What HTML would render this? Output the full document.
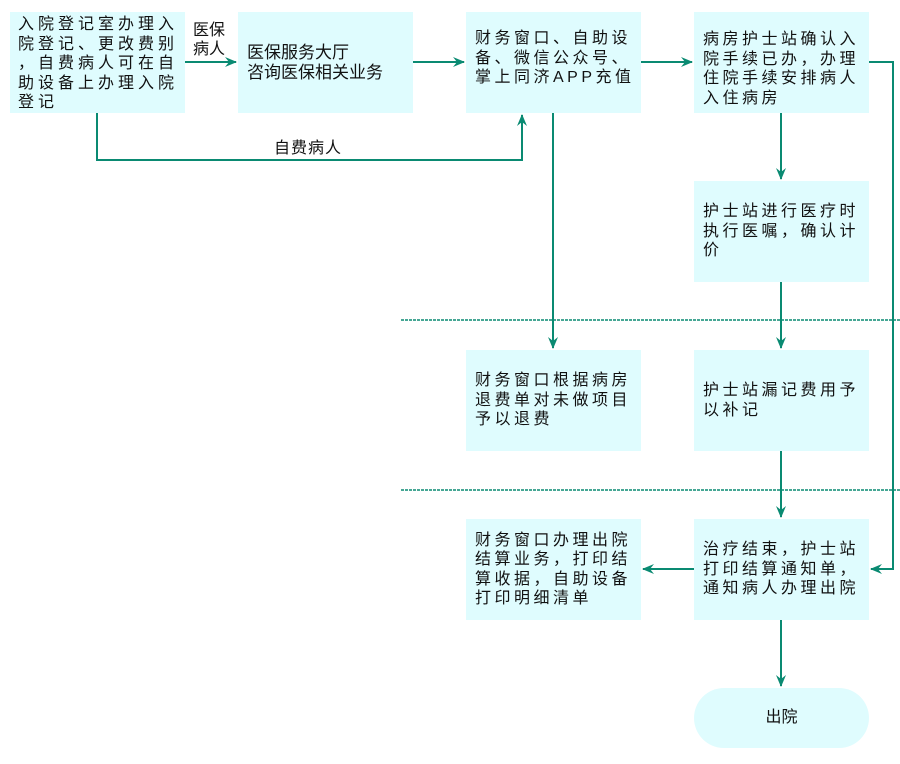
<!DOCTYPE html>
<html><head><meta charset="utf-8"><style>
body{margin:0;width:900px;height:764px;background:#fff;position:relative;overflow:hidden;font-family:"Liberation Sans","Noto Sans CJK SC",sans-serif;color:#111}
.b{position:absolute;background:#dffcfe;width:175px;height:101px;box-sizing:border-box;padding:0 6px 0 9px;display:flex;align-items:center;font-size:16px;line-height:19.5px;letter-spacing:3.5px}
.l{position:absolute;font-size:16px;line-height:19px}
svg{position:absolute;left:0;top:0}
</style></head><body>
<svg width="900" height="764">
<defs><marker id="a" markerWidth="12" markerHeight="10" refX="11" refY="5" orient="auto" markerUnits="userSpaceOnUse"><path d="M0,0 L12,5 L0,10 L4,5 Z" fill="#0a8a72"/></marker></defs>
<g stroke="#0a8a72" stroke-width="2" fill="none">
<line x1="401" y1="320" x2="900" y2="320" stroke-dasharray="3,1" stroke-width="1.5"/>
<line x1="401" y1="490" x2="900" y2="490" stroke-dasharray="3,1" stroke-width="1.5"/>
<line x1="185" y1="62" x2="236" y2="62" marker-end="url(#a)"/>
<line x1="413" y1="62" x2="464" y2="62" marker-end="url(#a)"/>
<line x1="641" y1="62" x2="692" y2="62" marker-end="url(#a)"/>
<polyline points="869,62 893,62 893,569 871,569" marker-end="url(#a)"/>
<polyline points="97,113 97,160 522,160 522,115" marker-end="url(#a)"/>
<line x1="553" y1="113" x2="553" y2="348" marker-end="url(#a)"/>
<line x1="781" y1="113" x2="781" y2="179" marker-end="url(#a)"/>
<line x1="781" y1="282" x2="781" y2="348" marker-end="url(#a)"/>
<line x1="781" y1="451" x2="781" y2="517" marker-end="url(#a)"/>
<line x1="781" y1="620" x2="781" y2="686" marker-end="url(#a)"/>
<line x1="694" y1="569" x2="643" y2="569" marker-end="url(#a)"/>
</g></svg>
<div class="b" style="left:10px;top:12px;align-items:flex-start;padding-top:3px;padding-left:8px;letter-spacing:4px;white-space:nowrap;padding-right:0">入院登记室办理入<br>院登记、更改费别<br>，自费病人可在自<br>助设备上办理入院<br>登记</div>
<div class="b" style="left:238px;top:12px;font-size:17px;letter-spacing:0;padding-left:9px">医保服务大厅<br>咨询医保相关业务</div>
<div class="b" style="left:466px;top:12px;align-items:flex-start;padding-top:17px">财务窗口、自助设备、微信公众号、掌上同济APP充值</div>
<div class="b" style="left:694px;top:12px;align-items:flex-start;padding-top:18px">病房护士站确认入院手续已办，办理住院手续安排病人入住病房</div>
<div class="b" style="left:694px;top:181px">护士站进行医疗时执行医嘱，确认计价</div>
<div class="b" style="left:466px;top:350px">财务窗口根据病房退费单对未做项目予以退费</div>
<div class="b" style="left:694px;top:350px">护士站漏记费用予以补记</div>
<div class="b" style="left:466px;top:519px">财务窗口办理出院结算业务，打印结算收据，自助设备打印明细清单</div>
<div class="b" style="left:694px;top:519px">治疗结束，护士站打印结算通知单，通知病人办理出院</div>
<div class="b" style="left:694px;top:688px;height:60px;border-radius:30px;justify-content:center;letter-spacing:0;padding:0">出院</div>
<div class="l" style="left:193px;top:21px">医保<br>病人</div>
<div class="l" style="left:274px;top:139px;letter-spacing:1px">自费病人</div>
</body></html>
